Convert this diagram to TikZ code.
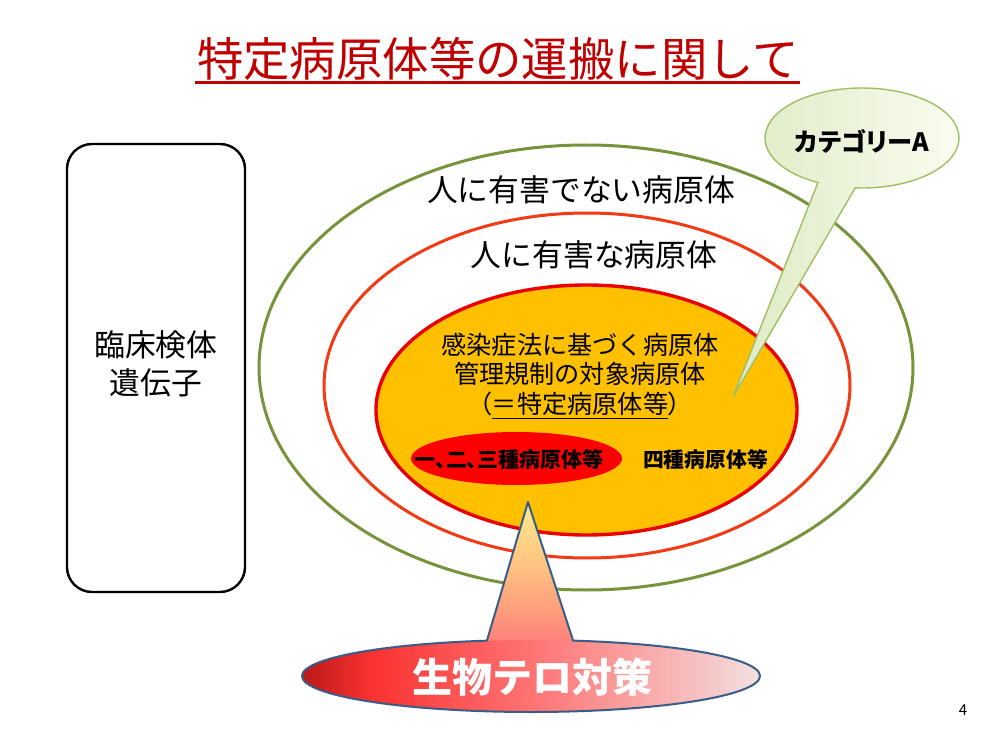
\documentclass[tikz,border=0pt]{standalone}
\usepackage{fontspec}
\usetikzlibrary{shapes.geometric,calc}
\newfontfamily\jp{Noto Sans CJK JP}
\newfontfamily\jpp[RawFeature=+palt]{Noto Sans CJK JP}
\definecolor{titlered}{RGB}{192,0,0}
\definecolor{olive}{RGB}{119,147,60}
\definecolor{midred}{RGB}{242,58,20}
\definecolor{innred}{RGB}{235,0,0}
\definecolor{gold}{RGB}{255,192,0}
\definecolor{calloutline}{RGB}{160,190,100}
\definecolor{calloutA}{RGB}{222,235,196}
\definecolor{calloutB}{RGB}{250,252,240}
\definecolor{navyline}{RGB}{56,93,138}
\definecolor{bA}{RGB}{170,18,18}
\definecolor{bB}{RGB}{250,50,50}
\definecolor{bC}{RGB}{255,115,115}
\definecolor{bD}{RGB}{248,180,180}
\definecolor{bE}{RGB}{242,234,234}
\definecolor{sT}{RGB}{255,236,140}
\definecolor{sM}{RGB}{255,190,128}
\definecolor{sB}{RGB}{255,130,122}
\pgfdeclarehorizontalshading{bioshade}{100bp}{color(0bp)=(bA); color(25bp)=(bA); color(34bp)=(bB); color(50bp)=(bC); color(64bp)=(bD); color(75bp)=(bE); color(100bp)=(bE)}
\tikzset{
  jtext/.style={font=\jp\fontsize{15.4}{19}\selectfont, align=center, inner sep=0pt},
  ring/.style={ellipse, inner sep=0pt},
}
\begin{document}
\begin{tikzpicture}[x=0.5pt,y=-0.5pt]
\useasboundingbox (0,0) rectangle (1003,738);
% title
\node[font=\jp\fontsize{23.2}{27}\selectfont, text=titlered, inner sep=0pt] (title) at (498,59) {特定病原体等の運搬に関して};
\draw[titlered, line width=1.3pt] (195,82.5) -- (800,82.5);
% left box
\node[draw=black, line width=1.2pt, rounded corners=12.5pt, minimum width=89pt, minimum height=224pt, inner sep=0pt] (box) at (156,368) {};
\node[jtext] (boxtext) at (156,364) {臨床検体\\遺伝子};
% rings
\node[ring, draw=olive, line width=1.5pt, minimum width=327pt, minimum height=222.5pt] (outer) at (586,367.5) {};
\node[ring, draw=midred, line width=1.5pt, minimum width=263pt, minimum height=172.5pt] (middle) at (587,385.5) {};
\node[ring, draw=innred, fill=gold, line width=1.7pt, minimum width=210.5pt, minimum height=125pt] (inner) at (586.5,410) {};
\node[ring, fill=red, minimum width=105.5pt, minimum height=26.5pt] (small) at (516.5,458.5) {};
\node[jtext] (t1) at (581,190) {人に有害でない病原体};
\node[jtext] (t2) at (594,255) {人に有害な病原体};
\node[jtext, font=\jp\fontsize{12.6}{14.75}\selectfont] (t3) at (580,376) {感染症法に基づく病原体\\管理規制の対象病原体\\{\jpp （}\underline{＝特定病原体等}{\jpp ）}};
\node[font=\jpp\bfseries\fontsize{10.5}{12}\selectfont, inner sep=0pt] (t4) at (509,459.5) {一、二、三種病原体等};
\node[font=\jp\bfseries\fontsize{10.4}{12}\selectfont, inner sep=0pt] (t5) at (705.5,460) {四種病原体等};
% callout top right
\coordinate (cc) at (862,138);
\coordinate (ctip) at (733,397);
\draw[calloutline, line width=0.7pt, left color=calloutA, right color=calloutB]
  ([shift={(94:97 and 50)}]cc) arc[start angle=94, end angle=-243, x radius=97, y radius=50] -- (ctip) -- cycle;
\node[font=\jpp\bfseries\fontsize{12.6}{14}\selectfont, inner sep=0pt] (cat) at (862,141) {カテゴリーA};
% bottom callout
\coordinate (bc) at (531,676);
\coordinate (btip) at (528,502);
\coordinate (brb) at ([shift={(-79.4:229 and 36)}]bc);
\coordinate (blb) at ([shift={(258.9:229 and 36)}]bc);
\path[shading=bioshade] (brb) arc[start angle=-79.4, end angle=258.9, x radius=229, y radius=36] -- (btip) -- cycle;
\path[top color=sT, bottom color=sB, middle color=sM] (blb) -- (btip) -- (brb) -- ([shift={(-90:229 and 36)}]bc) -- cycle;
\draw[navyline, line width=1pt, line join=round] (brb) arc[start angle=-79.4, end angle=258.9, x radius=229, y radius=36] -- (btip) -- cycle;
\node[font=\jp\bfseries\fontsize{20}{24}\selectfont, text=white, inner sep=0pt] (bio) at (532,677) {生物テロ対策};
% page number
\node[font=\jp\fontsize{7.5}{9}\selectfont, inner sep=0pt] (pg) at (963,710) {4};
\end{tikzpicture}
\end{document}
